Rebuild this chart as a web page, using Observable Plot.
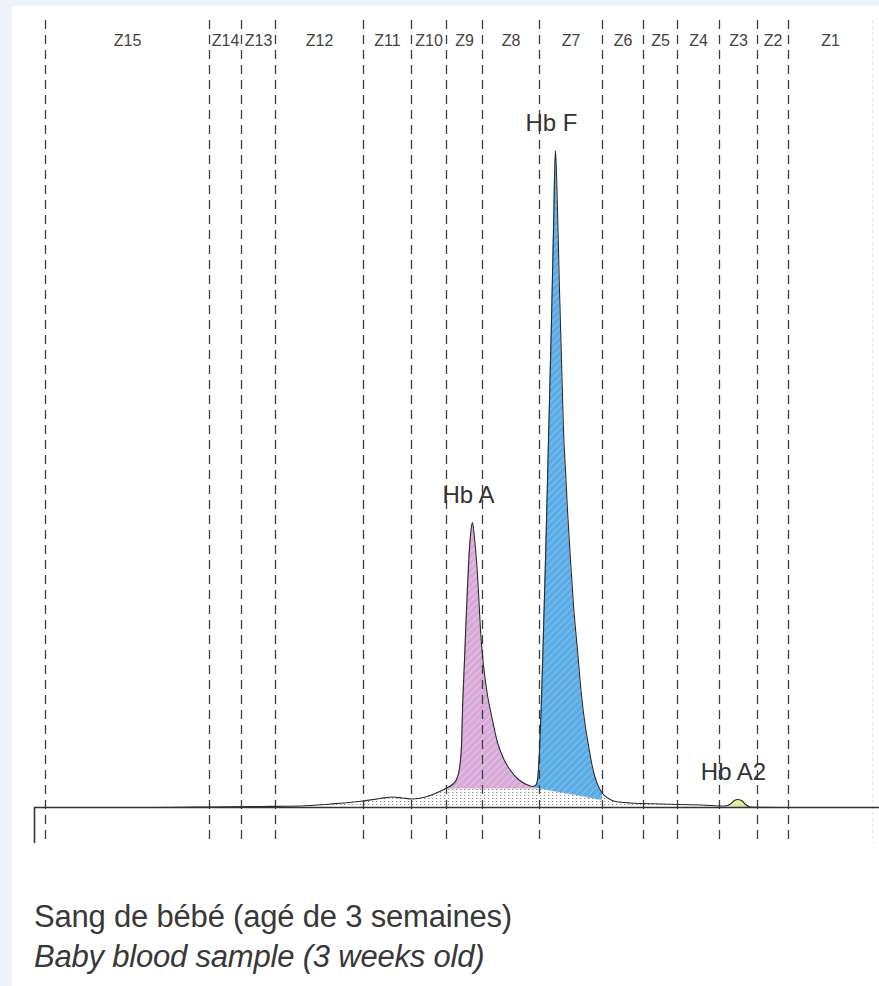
<!DOCTYPE html>
<html><head><meta charset="utf-8">
<script src="https://cdn.jsdelivr.net/npm/d3@7"></script>
<script src="https://cdn.jsdelivr.net/npm/@observablehq/plot@0.6"></script>
<style>
html,body{margin:0;padding:0;background:#eef2f9;width:879px;height:986px;overflow:hidden;}
#panel{position:absolute;left:12px;top:6px;width:867px;height:980px;background:#fff;}
#chart{position:absolute;left:0;top:0;}
#caption{position:absolute;left:22px;top:891px;font-family:"Liberation Sans",Arial,sans-serif;font-size:31px;line-height:40px;color:#383838;white-space:nowrap;letter-spacing:-0.2px;}
</style></head>
<body>
<div id="panel">
  <div id="chart"></div>
  <div id="caption">
    <div>Sang de bébé (agé de 3 semaines)</div>
    <div style="font-style:italic">Baby blood sample (3 weeks old)</div>
  </div>
</div>
<script>
// Zones (retention position units)
const zoneNames = ["Z15","Z14","Z13","Z12","Z11","Z10","Z9","Z8","Z7","Z6","Z5","Z4","Z3","Z2","Z1"];
const zoneEdges = [11,175,207,241,329,377,412,448,505,568,609,643,685,723,754];
const runEnd = 838;

// Chromatogram trace (position, signal as % of the Hb F apex)
const retention = [0,116,175,226,266,296,329,346,358,368,378,391,403,413,418,422,425,427,428,430,432,434,436,438,440,442,444,446,449,453,457,463,469,476,484,492,498,501,503,505,507,509,511,513,515,517,519,521,523,525,527,529,531,533,536,539,543,547,551,554,557,560,564,568,574,581,596,626,666,691,696,700,703,707,711,716,766,845];
const signal = [0,0,0.08,0.15,0.23,0.53,0.99,1.37,1.60,1.45,1.29,1.60,2.28,3.04,3.50,4.26,5.94,9.44,14.76,22.37,29.98,36.83,41.40,43.38,40.94,37.60,32.72,26.94,21.61,17.05,14.00,9.89,7.46,5.63,4.26,3.50,3.20,3.35,4.11,8.68,16.29,26.94,37.60,49.77,61.95,74.12,87.82,100,90.87,78.69,68.04,57.38,51.29,45.21,37.60,30.75,23.90,17.05,12.18,9.44,6.85,4.87,3.20,2.13,1.37,0.91,0.68,0.53,0.38,0.23,0.53,1.07,1.22,1.07,0.46,0.08,0,0];

// Integrated peaks
const peakNames = ["Hb A","Hb F","Hb A2"];
const peakStart = [413,501,691];
const peakEnd = [501,568,716];
const peakBaseStart = [2.9,3.0,0.23];
const peakBaseEnd = [2.9,1.1,0.1];
const peakFills = ["url(#hatchA)","url(#hatchF)","#e2ec9c"];

const stippleStart = 175, stippleEnd = 766;

const data = retention.map((x,i)=>({x, y: signal[i]}));
const peaks = peakNames.map((name,k)=>{
  const s = peakStart[k], e = peakEnd[k], b0 = peakBaseStart[k], b1 = peakBaseEnd[k];
  const pts = data.filter(d=>d.x>=s && d.x<=e).map(d=>({x:d.x, y:d.y, base: b0 + (b1-b0)*(d.x-s)/(e-s), name}));
  const apex = pts.reduce((a,b)=> b.y>a.y ? b : a);
  return {name, pts, apex, fill: peakFills[k]};
});

const xDomain = [0,845];
const yDomain = [-5.48,119.79];
const font = "'Liberation Sans', Arial, sans-serif";

const marks = [
  Plot.areaY(data.filter(d=>d.x>=stippleStart && d.x<=stippleEnd), {x:"x", y1:0, y2:"y", fill:"url(#stipple)", curve:"monotone-x"}),
  ...peaks.map(p => Plot.areaY(p.pts, {x:"x", y1:"base", y2:"y", fill:p.fill, curve:"monotone-x"})),
  Plot.ruleX(zoneEdges, {stroke:"#3d3d3d", strokeWidth:1.3, strokeDasharray:"9,6"}),
  Plot.ruleX([runEnd], {stroke:"#e2e2e2", strokeWidth:1, strokeDasharray:"3,3"}),
  ...peaks.map(p => Plot.line(p.pts, {x:"x", y:"base", stroke:"#777", strokeWidth:0.6, strokeOpacity:0.5})),
  Plot.line(data, {x:"x", y:"y", stroke:"#2a2a2a", strokeWidth:1.1, curve:"monotone-x"}),
  Plot.ruleY([0], {stroke:"#333", strokeWidth:1.6}),
  Plot.ruleX([xDomain[0]], {y1:0, y2:yDomain[0], stroke:"#333", strokeWidth:1.6}),
  Plot.text(zoneNames, {x:(d,i)=>(zoneEdges[i] + (i+1<zoneEdges.length ? zoneEdges[i+1] : runEnd))/2, frameAnchor:"top", dy:14, text:d=>d, fontSize:16, fill:"#444", fontFamily:font, letterSpacing:-0.5}),
  Plot.text(peaks, {x:d=>d.apex.x, y:d=>d.apex.y, text:"name", dy:-27, dx:-4, fontSize:24, fill:"#333", fontFamily:font, letterSpacing:-1})
];

const chart = Plot.plot({
  width:867, height:860,
  marginLeft:22, marginRight:0, marginTop:14, marginBottom:23,
  x:{domain:xDomain, axis:null},
  y:{domain:yDomain, axis:null},
  style:{background:"transparent", fontFamily:font},
  marks
});

d3.select(chart).insert("defs", ":first-child").html(`
  <pattern id="hatchA" patternUnits="userSpaceOnUse" width="5" height="5" patternTransform="rotate(45)">
    <rect width="5" height="5" fill="#d8a8d8"/>
    <line x1="0" y1="0" x2="0" y2="5" stroke="#edd3ee" stroke-width="1.4"/>
  </pattern>
  <pattern id="hatchF" patternUnits="userSpaceOnUse" width="5" height="5" patternTransform="rotate(45)">
    <rect width="5" height="5" fill="#5aabe6"/>
    <line x1="0" y1="0" x2="0" y2="5" stroke="#96cdf2" stroke-width="1.4"/>
  </pattern>
  <pattern id="stipple" patternUnits="userSpaceOnUse" width="4" height="3">
    <rect width="4" height="3" fill="#fff"/>
    <rect width="1.3" height="1" fill="#909090"/>
  </pattern>
`);

document.getElementById("chart").appendChild(chart);
</script>
</body></html>
